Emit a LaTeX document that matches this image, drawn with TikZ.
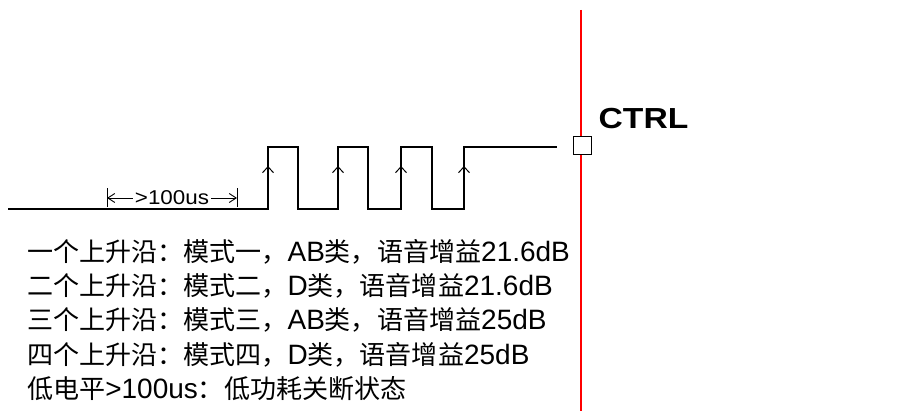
\documentclass[tikz,border=0pt]{standalone}
\usepackage{fontspec}
\setmainfont{Liberation Sans}
\newfontfamily\cjk[Scale=0.93]{Noto Sans CJK SC}
\usetikzlibrary{arrows.meta,positioning}
\newcommand\zh[1]{{\cjk #1}}

\begin{document}
\begin{tikzpicture}[x=1pt,y=-1pt,
    wave/.style={line width=1.3pt,line join=miter},
    rise/.style={line width=1.1pt,-{Straight Barb[length=6pt,width=11pt,line width=1pt]}},
    dimarrow/.style={line width=0.9pt,-{Straight Barb[length=7pt,width=9pt,line width=0.9pt]}},
    pin/.style={draw,line width=0.9pt,fill=white,minimum size=18pt,inner sep=0pt},
    note/.style={anchor=base west,inner sep=0pt,font=\fontsize{28}{30}\selectfont}]
    \useasboundingbox (0,0) rectangle (920,411);

    % Leitung mit Anschluss
    \draw[red,line width=1.1pt] (581,10) -- (581,411);
    \node[pin] (ctrl) at (582,145) {};
    \node[above right=7pt and 7pt of ctrl.north east,anchor=south west,inner sep=0pt,
          font=\bfseries\fontsize{29}{30}\selectfont] (ctrllbl) {\scalebox{1.16}[1]{CTRL}};

    % Signalverlauf
    \coordinate (start) at (8,209);
    \coordinate (ende) at (557,147);
    \draw[wave] (start) -- (268,209) -- (268,147) -- (298,147) -- (298,209)
        -- (338,209) -- (338,147) -- (368,147) -- (368,209)
        -- (401,209) -- (401,147) -- (432,147) -- (432,209)
        -- (464,209) -- (464,147) -- (ende);

    % steigende Flanken
    \foreach \x in {268,338,401,464} {
        \draw[rise] (\x,209) -- (\x,166);
    }

    % Zeitmass
    \coordinate (tl) at (107,198);
    \coordinate (tr) at (237,198);
    \draw[line width=0.9pt] ([yshift=-9pt]tl) -- ([yshift=10pt]tl);
    \draw[line width=0.9pt] ([yshift=-9pt]tr) -- ([yshift=10pt]tr);
    \node[inner sep=2pt,font=\fontsize{20}{22}\selectfont] (zeit) at (172,198) {\scalebox{1.12}[1]{>100us}};
    \draw[dimarrow] (zeit.west) -- (tl);
    \draw[dimarrow] (zeit.east) -- (tr);

    % Beschreibung
    \foreach \txt [count=\i from 0] in {
        {\zh{一个上升沿：模式一，}AB\zh{类，语音增益}21.6dB},
        {\zh{二个上升沿：模式二，}D\zh{类，语音增益}21.6dB},
        {\zh{三个上升沿：模式三，}AB\zh{类，语音增益}25dB},
        {\zh{四个上升沿：模式四，}D\zh{类，语音增益}25dB},
        {\zh{低电平}>100us\zh{：低功耗关断状态}}} {
        \node[note] (zeile\i) at (27,262+34*\i) {\txt};
    }
\end{tikzpicture}
\end{document}
